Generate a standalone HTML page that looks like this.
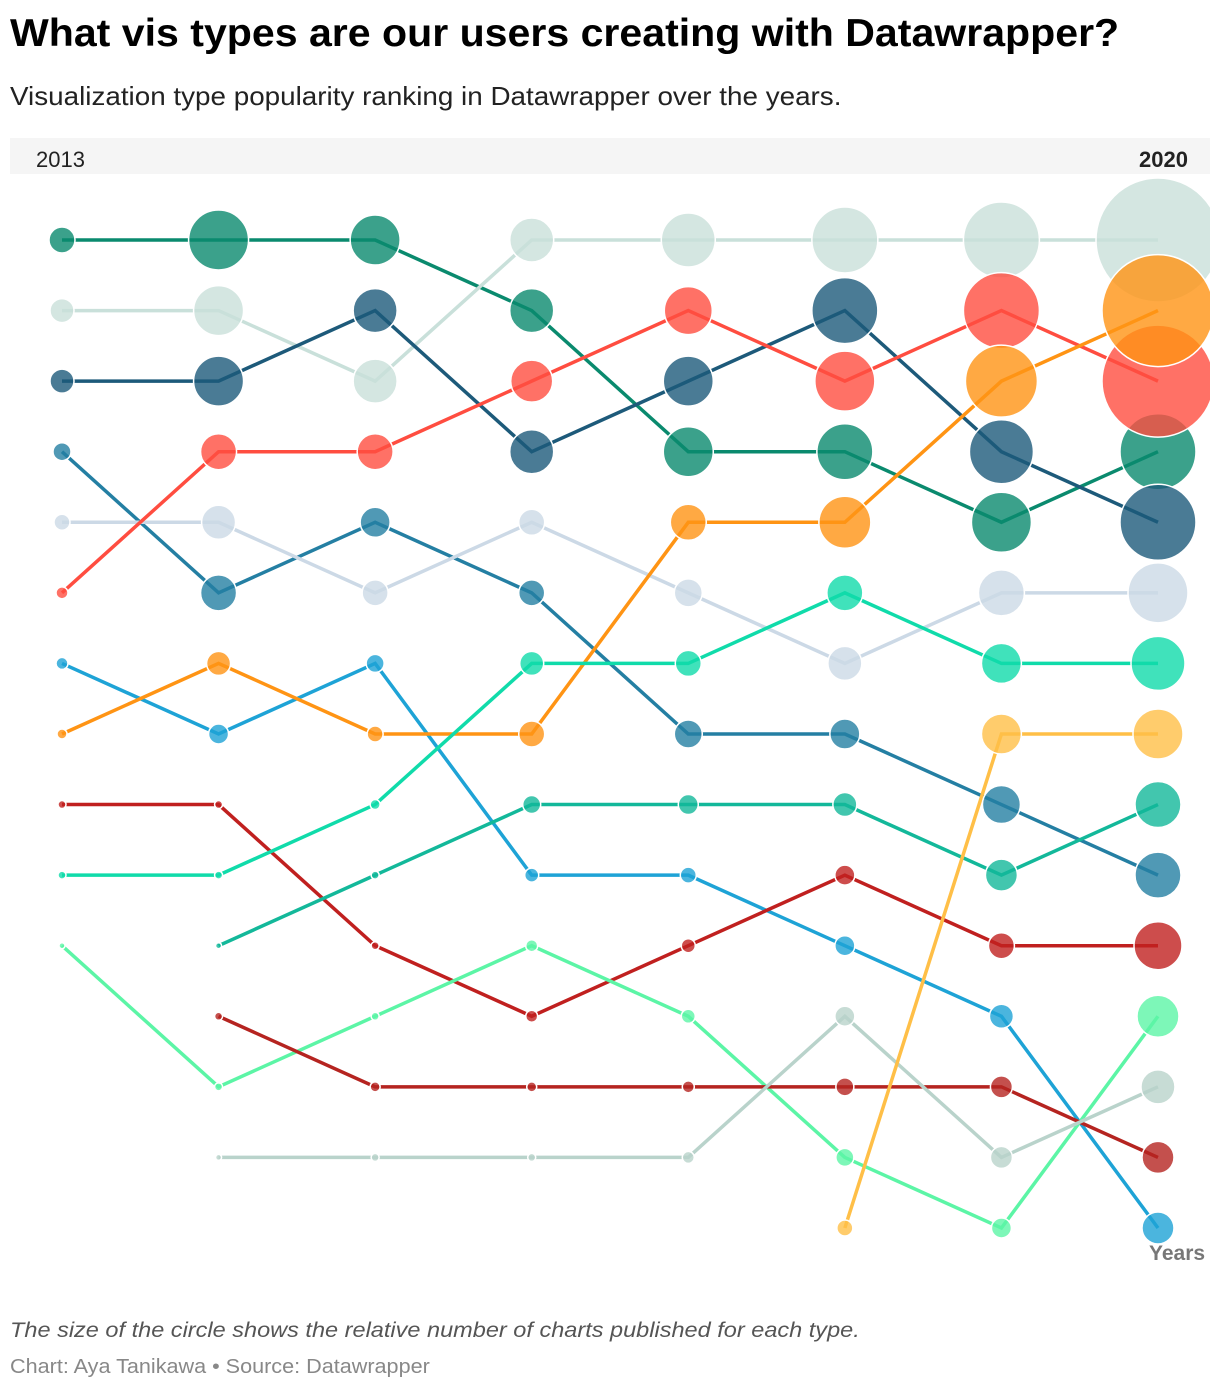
<!DOCTYPE html>
<html><head><meta charset="utf-8"><style>
body{margin:0;background:#fff;font-family:"Liberation Sans",sans-serif;width:1220px;height:1392px;overflow:hidden;position:relative}
.t{position:absolute;left:10px;white-space:nowrap;transform-origin:0 0}
</style></head><body>
<div class="t" style="top:12px;font-size:39px;font-weight:bold;color:#000;transform:scaleX(1.053)">What vis types are our users creating with Datawrapper?</div>
<div class="t" style="top:81px;font-size:26px;color:#222;transform:scaleX(1.07)">Visualization type popularity ranking in Datawrapper over the years.</div>
<div style="position:absolute;left:10px;top:138px;width:1200px;height:36px;background:#f5f5f5"></div>
<div class="t" style="left:36px;top:147px;font-size:22px;color:#222">2013</div>
<div class="t" style="left:1139px;top:147px;font-size:22px;font-weight:bold;color:#222">2020</div>
<svg id="chart" width="1210" height="1392" style="position:absolute;left:0;top:0;overflow:hidden"></svg>
<div class="t" style="left:1149px;top:1242px;font-size:21px;font-weight:bold;color:#777">Years</div>
<div class="t" style="top:1319px;font-size:21px;font-style:italic;color:#555;transform:scaleX(1.12)">The size of the circle shows the relative number of charts published for each type.</div>
<div class="t" style="top:1356px;font-size:20px;color:#888;transform:scaleX(1.08)">Chart: Aya Tanikawa • Source: Datawrapper</div>
<script>
const years=[2013,2014,2015,2016,2017,2018,2019,2020];
const colors=["#0a8a6e","#c9e0da","#1d5a7a","#247fa3","#ccd9e6","#ff4d40","#1ea3d6","#ff9414","#c0201f","#10dbaa","#5cf5a6","#13b89a","#b52420","#b9d3cb","#ffbf47"];
const ranks=[
[1,1,1,2,4,4,5,4],
[2,2,3,1,1,1,1,1],
[3,3,2,4,3,2,4,5],
[4,6,5,6,8,8,9,10],
[5,5,6,5,6,7,6,6],
[6,4,4,3,2,3,2,3],
[7,8,7,10,10,11,12,15],
[8,7,8,8,5,5,3,2],
[9,9,11,12,11,10,11,11],
[10,10,9,7,7,6,7,7],
[11,13,12,11,12,14,15,12],
[null,11,10,9,9,9,10,9],
[null,12,13,13,13,13,13,14],
[null,14,14,14,14,12,14,13],
[null,null,null,null,null,15,8,8]];
const sizes=[
[13,30,25,22,25,28,30,38],
[12,25,22,22,27,33,38,62],
[12,25,22,22,25,33,32,38],
[9,18,15,13,14,15,19,23],
[8,17,13,13,14,17,23,30],
[6,18,18,21,24,30,38,56],
[6,10,9,7,8,10,12,16],
[5,12,8,13,18,26,36,56],
[4,4,4,6,7,10,13,24],
[4,4,5,12,13,18,20,27],
[3,4,4,6,7,9,10,21],
[null,3,4,9,10,12,16,23],
[null,4,5,5,6,9,11,16],
[null,3,4,4,6,10,11,17],
[null,null,null,null,null,8,20,25]];
const x=i=>62+i*156.57;
const y=r=>240+(r-1)*70.57;
const svg=document.getElementById('chart');
const NS='http://www.w3.org/2000/svg';
ranks.forEach((rs,s)=>{
  const pts=[];rs.forEach((r,i)=>{if(r!=null)pts.push(x(i)+','+y(r));});
  const p=document.createElementNS(NS,'polyline');
  
  
  p.setAttribute('points',pts.join(' '));
  p.setAttribute('fill','none');p.setAttribute('stroke',colors[s]);p.setAttribute('stroke-width','3.5');
  svg.appendChild(p);
});
ranks.forEach((rs,s)=>{
  rs.forEach((r,i)=>{if(r==null)return;
    const c=document.createElementNS(NS,'circle');
    
    
    c.setAttribute('cx',x(i));c.setAttribute('cy',y(r));c.setAttribute('r',sizes[s][i]);
    c.setAttribute('fill',colors[s]);c.setAttribute('fill-opacity','0.8');
    c.setAttribute('stroke','#fff');c.setAttribute('stroke-width','1.5');
    svg.appendChild(c);
  });
});
</script>
</body></html>
